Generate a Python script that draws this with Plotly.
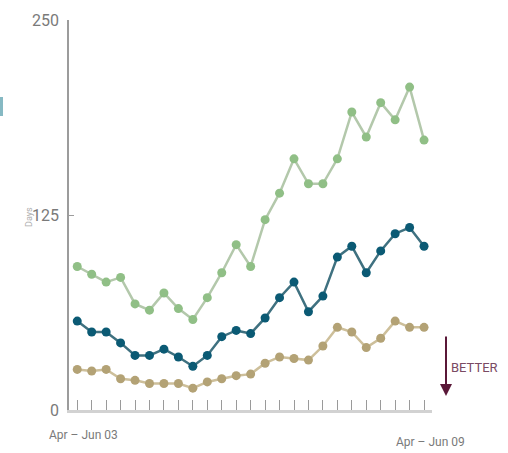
import plotly.graph_objects as go

# Quarterly series, Apr–Jun 2003 through Apr–Jun 2009 (25 quarters)
quarters = list(range(25))
first_label = "Apr – Jun 03"
last_label = "Apr – Jun 09"

green_days = [92, 87, 82, 85, 68, 64, 75, 65, 58, 72, 88, 106, 92, 122, 139,
              161, 145, 145, 161, 191, 175, 197, 186, 207, 173]
blue_days = [57, 50, 50, 43, 35, 35, 39, 34, 28, 35, 47, 51, 49, 59, 72,
             82, 63, 73, 98, 105, 88, 102, 113, 117, 105]
tan_days = [26, 25, 26, 20, 19, 17, 17, 17, 14, 18, 20, 22, 23, 30, 34,
            33, 32, 41, 53, 50, 40, 46, 57, 53, 53]

y_ticks = [0, 125, 250]

W, H = 508, 453
L, R, T, B = 69, 76, 20, 43
PW, PH = W - L - R, H - T - B

def px(x):
    return (x - L) / PW

def py(y):
    return (H - B - y) / PH

FONT = "Roboto, Liberation Sans, sans-serif"

series = [
    (green_days, "#b3c8ab", "#90bf86"),
    (blue_days, "#3f7180", "#0b5a74"),
    (tan_days, "#cdbf9a", "#b3a275"),
]

fig = go.Figure()
for vals, line_c, mark_c in series:
    fig.add_trace(go.Scatter(
        x=quarters, y=vals, mode="lines+markers",
        line=dict(color=line_c, width=2.5),
        marker=dict(color=mark_c, size=9),
        showlegend=False, hoverinfo="skip",
    ))

fig.update_layout(
    width=W, height=H,
    margin=dict(l=L, r=R, t=T, b=B, pad=0),
    paper_bgcolor="white", plot_bgcolor="white",
    font=dict(family=FONT, color="#777777"),
    xaxis=dict(
        range=[-0.57, 24.55], showgrid=False, zeroline=False,
        showline=True, linecolor="#d2d2d2", linewidth=3,
        ticks="inside", ticklen=10, tickwidth=1, tickcolor="#9a9a9a",
        tickvals=quarters, showticklabels=False,
    ),
    yaxis=dict(
        range=[0, 250], showgrid=False, zeroline=False,
        showline=True, linecolor="#9c9c9c", linewidth=1.5,
        ticks="inside", ticklen=5, tickwidth=1, tickcolor="#9c9c9c",
        tickvals=y_ticks, ticktext=[str(v) for v in y_ticks],
        tickfont=dict(size=16, color="#7a7a7a"), ticklabelstandoff=5,
    ),
)

annotations = [
    dict(x=px(83), y=py(435), text=first_label, font=dict(size=12, color="#7a7a7a")),
    dict(x=px(430), y=py(442), text=last_label, font=dict(size=12, color="#7a7a7a")),
    dict(x=px(29), y=py(217), text="Days", textangle=-90,
         font=dict(size=9, color="#b0b0b0")),
    dict(x=px(474), y=py(367), text="BETTER", font=dict(size=13, color="#7a4a63")),
    dict(x=px(446), y=py(396), ax=0, ay=-61, axref="pixel", ayref="pixel",
         text="", showarrow=True, arrowhead=2, arrowsize=1.2, arrowwidth=2,
         arrowcolor="#5a1838"),
]
for a in annotations:
    a.setdefault("xref", "paper")
    a.setdefault("yref", "paper")
    a.setdefault("showarrow", False)
    a.setdefault("xanchor", "center")
    a.setdefault("yanchor", "middle")
    fig.add_annotation(**a)

# partial panel edge at the far left
fig.add_shape(type="rect", xref="paper", yref="paper",
              x0=px(0), x1=px(3), y0=py(116), y1=py(97),
              fillcolor="#86b9c3", line=dict(width=0), layer="above")

fig.write_html("out.html")
